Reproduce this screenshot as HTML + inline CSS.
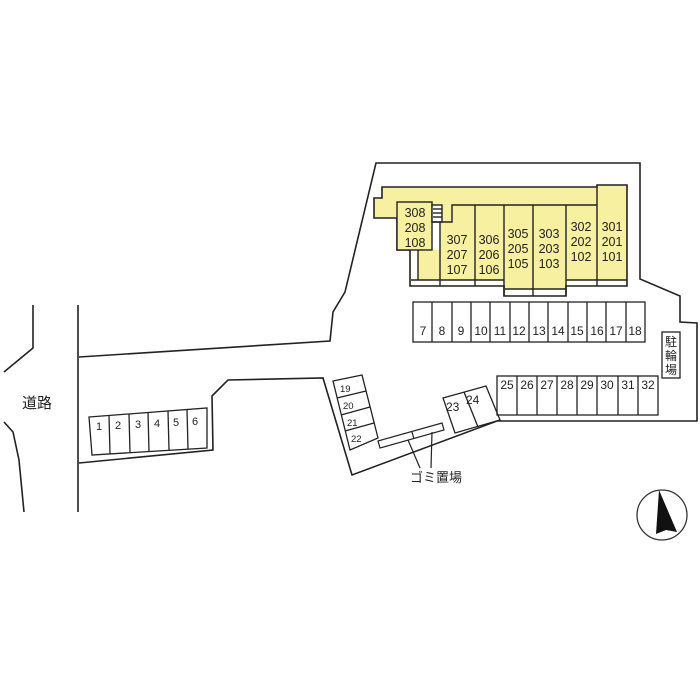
<!DOCTYPE html>
<html><head><meta charset="utf-8"><style>
html,body{margin:0;padding:0;background:#fff}
svg{display:block}
text{font-family:"Liberation Sans","Noto Sans CJK JP",sans-serif;fill:#222}
</style></head><body>
<svg width="700" height="700" viewBox="0 0 700 700" xmlns="http://www.w3.org/2000/svg">
<g fill="none" stroke="#222" stroke-width="1.6">
<!-- road -->
<line x1="78" y1="305" x2="78" y2="512"/>
<polyline points="33,305 33,348 4,372"/>
<polyline points="4,422 13,432 19,460 24,512"/>
<!-- site outline -->
<polyline points="79,357 330,341 333,312 345,292 376,163 640,163 640,279 680,296 680,322 697,323 697,421 497,421 352,475 323,378 228,380 212,396 213,450 79,463"/>
</g>
<text x="22" y="408" font-size="15">道路</text>

<!-- parking 1-6 -->
<g fill="none" stroke="#222" stroke-width="1.3">
<polygon points="89,417 207,408 207,448 92,455"/>
<line x1="109" y1="415" x2="110" y2="454"/>
<line x1="129" y1="414" x2="130" y2="453"/>
<line x1="148" y1="412" x2="149" y2="451"/>
<line x1="168" y1="411" x2="169" y2="450"/>
<line x1="187" y1="409" x2="188" y2="449"/>
</g>
<g font-size="11" text-anchor="middle">
<text x="99" y="430">1</text><text x="118" y="429">2</text><text x="138" y="428">3</text><text x="157" y="427">4</text><text x="176" y="426">5</text><text x="195" y="425">6</text>
</g>

<!-- building -->
<polygon points="382,187 597,187 597,185 627,185 627,286 566,286 566,296 504,296 504,286 410,286 410,250 397,250 397,218 374,218 374,198 382,198" fill="#f6f0a0" stroke="#222" stroke-width="1.6"/>
<g fill="#fff" stroke="none">
<rect x="411" y="280" width="92" height="5"/><rect x="567" y="280" width="59" height="5"/><rect x="505" y="289" width="60" height="6"/>
<rect x="411" y="250" width="7" height="32"/>
<rect x="432" y="222" width="8" height="28"/>
</g>
<g fill="none" stroke="#222" stroke-width="1.4">
<rect x="397" y="202" width="35" height="48" fill="#f6f0a0"/>
<rect x="432" y="205" width="10" height="17" fill="#fff"/>
<line x1="433" y1="209" x2="442" y2="209"/><line x1="433" y1="213" x2="442" y2="213"/><line x1="433" y1="217" x2="442" y2="217"/>
<polyline points="432,222 452,222 452,205 597,205"/>
<line x1="418" y1="250" x2="418" y2="280"/>
<line x1="411" y1="280" x2="504" y2="280"/>
<line x1="566" y1="280" x2="627" y2="280"/>
<line x1="505" y1="289" x2="566" y2="289"/>
<line x1="440" y1="222" x2="440" y2="286"/>
<line x1="475" y1="205" x2="475" y2="286"/>
<line x1="504" y1="205" x2="504" y2="296"/>
<line x1="533" y1="205" x2="533" y2="296"/>
<line x1="566" y1="205" x2="566" y2="296"/>
<line x1="597" y1="187" x2="597" y2="286"/>
</g>
<g font-size="12.5" text-anchor="middle">
<text x="415" y="217">308</text><text x="415" y="232">208</text><text x="415" y="247">108</text>
<text x="457" y="244">307</text><text x="457" y="259">207</text><text x="457" y="274">107</text>
<text x="489" y="244">306</text><text x="489" y="259">206</text><text x="489" y="274">106</text>
<text x="518" y="238">305</text><text x="518" y="253">205</text><text x="518" y="268">105</text>
<text x="549" y="238">303</text><text x="549" y="253">203</text><text x="549" y="268">103</text>
<text x="581" y="231">302</text><text x="581" y="246">202</text><text x="581" y="261">102</text>
<text x="612" y="231">301</text><text x="612" y="246">201</text><text x="612" y="261">101</text>
</g>

<!-- parking 7-18 -->
<g fill="none" stroke="#222" stroke-width="1.3">
<rect x="413" y="302" width="232" height="40"/>
<line x1="432" y1="302" x2="432" y2="342"/><line x1="452" y1="302" x2="452" y2="342"/><line x1="471" y1="302" x2="471" y2="342"/><line x1="490" y1="302" x2="490" y2="342"/><line x1="510" y1="302" x2="510" y2="342"/><line x1="529" y1="302" x2="529" y2="342"/><line x1="548" y1="302" x2="548" y2="342"/><line x1="568" y1="302" x2="568" y2="342"/><line x1="587" y1="302" x2="587" y2="342"/><line x1="606" y1="302" x2="606" y2="342"/><line x1="626" y1="302" x2="626" y2="342"/>
</g>
<g font-size="12" text-anchor="middle">
<text x="423" y="335">7</text><text x="442" y="335">8</text><text x="461" y="335">9</text><text x="481" y="335">10</text><text x="500" y="335">11</text><text x="519" y="335">12</text><text x="539" y="335">13</text><text x="558" y="335">14</text><text x="577" y="335">15</text><text x="597" y="335">16</text><text x="616" y="335">17</text><text x="635" y="335">18</text>
</g>

<!-- parking 25-32 -->
<g fill="none" stroke="#222" stroke-width="1.3">
<rect x="497" y="376" width="161" height="39"/>
<line x1="517" y1="376" x2="517" y2="415"/><line x1="537" y1="376" x2="537" y2="415"/><line x1="557" y1="376" x2="557" y2="415"/><line x1="577" y1="376" x2="577" y2="415"/><line x1="597" y1="376" x2="597" y2="415"/><line x1="618" y1="376" x2="618" y2="415"/><line x1="638" y1="376" x2="638" y2="415"/>
</g>
<g font-size="12" text-anchor="middle">
<text x="507" y="389">25</text><text x="527" y="389">26</text><text x="547" y="389">27</text><text x="567" y="389">28</text><text x="587" y="389">29</text><text x="607" y="389">30</text><text x="628" y="389">31</text><text x="648" y="389">32</text>
</g>

<!-- bicycle -->
<rect x="662" y="332" width="18" height="46" fill="none" stroke="#222" stroke-width="1.3"/>
<g font-size="12" text-anchor="middle"><text x="671" y="346">駐</text><text x="671" y="360">輪</text><text x="671" y="374">場</text></g>

<!-- 19-22 -->
<g fill="none" stroke="#222" stroke-width="1.3">
<polygon points="333,381 362,375 378,438 350,450"/>
<line x1="337" y1="398" x2="366" y2="391"/>
<line x1="341" y1="415" x2="370" y2="407"/>
<line x1="345" y1="431" x2="374" y2="423"/>
</g>
<g font-size="9.5"><text x="340" y="392">19</text><text x="343" y="409">20</text><text x="347" y="426">21</text><text x="351" y="442">22</text></g>

<!-- 23-24 -->
<g fill="none" stroke="#222" stroke-width="1.3">
<polygon points="443,398 486,386 500,420 455,433"/>
<line x1="464" y1="392" x2="478" y2="427"/>
</g>
<g font-size="12"><text x="446" y="411">23</text><text x="466" y="404">24</text></g>

<!-- gomi -->
<g fill="none" stroke="#222" stroke-width="1.2">
<polygon points="378,441 442,423 444,430 380,448"/>
<line x1="412" y1="432" x2="414" y2="439"/>
<line x1="408" y1="440" x2="420" y2="468"/>
<line x1="432" y1="432" x2="431" y2="468"/>
</g>
<text x="410" y="482" font-size="13">ゴミ置場</text>

<!-- compass -->
<circle cx="662" cy="515" r="25" fill="none" stroke="#333" stroke-width="1.3"/>
<polygon points="659,490 677,532 666,530 656,534" fill="#111"/>
</svg>
</body></html>
